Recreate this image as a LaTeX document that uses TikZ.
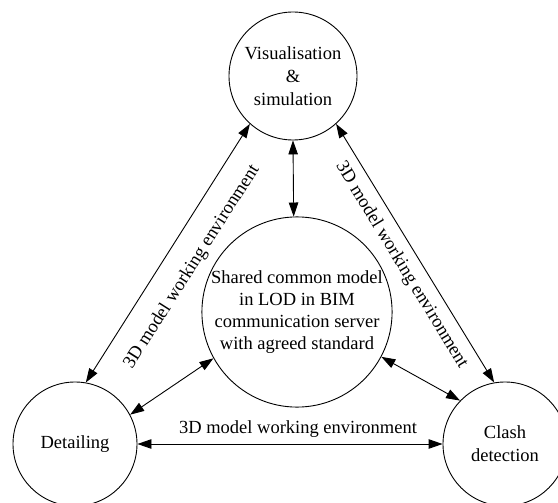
\documentclass[tikz,border=0pt]{standalone}
\usepackage{fontspec}
\setmainfont{Liberation Serif}
\usetikzlibrary{arrows.meta}
\begin{document}
\begin{tikzpicture}[x=1pt,y=-1pt,
  stage/.style={circle, draw, line width=0.9pt, inner sep=0pt, minimum size=#1,
                align=center, font=\fontsize{18.5}{23}\selectfont},
  link/.style={line width=0.9pt,
               {Triangle[length=14pt,width=9.5pt]}-{Triangle[length=14pt,width=9.5pt]}},
  lab/.style={font=\fontsize{18.5}{22}\selectfont, inner sep=0pt}]
\useasboundingbox (0,0) rectangle (558,503);

% the four stages
\node[stage=128pt] (vis) at (293,76) {Visualisation\\\&\\simulation};
\node[stage=190pt, font=\fontsize{18.5}{22.2}\selectfont] (core) at (297,312)
  {Shared common model\\in LOD in BIM\\communication server\\with agreed standard};
\node[stage=124pt] (det) at (75,444) {Detailing};
\node[stage=124pt] (clash) at (505,444) {Clash\\detection};

% two-way links
\draw[link] (vis.228.6) -- (det.80.8);
\draw[link] (vis.312) -- (clash.100.8);
\draw[link] (vis.270) -- (core.92.4);
\draw[link] (core.209.7) -- (det.28.9);
\draw[link] (core.332.4) -- (clash.136.3);
\draw[link] (det.0) -- (clash.180);

% link labels
\node[lab, rotate=57.6] (labL) at (192,267) {3D model working environment};
\node[lab, rotate=-58.6] (labR) at (401.5,265) {3D model working environment};
\node[lab, anchor=base] (labB) at (298,433) {3D model working environment};
\end{tikzpicture}
\end{document}
